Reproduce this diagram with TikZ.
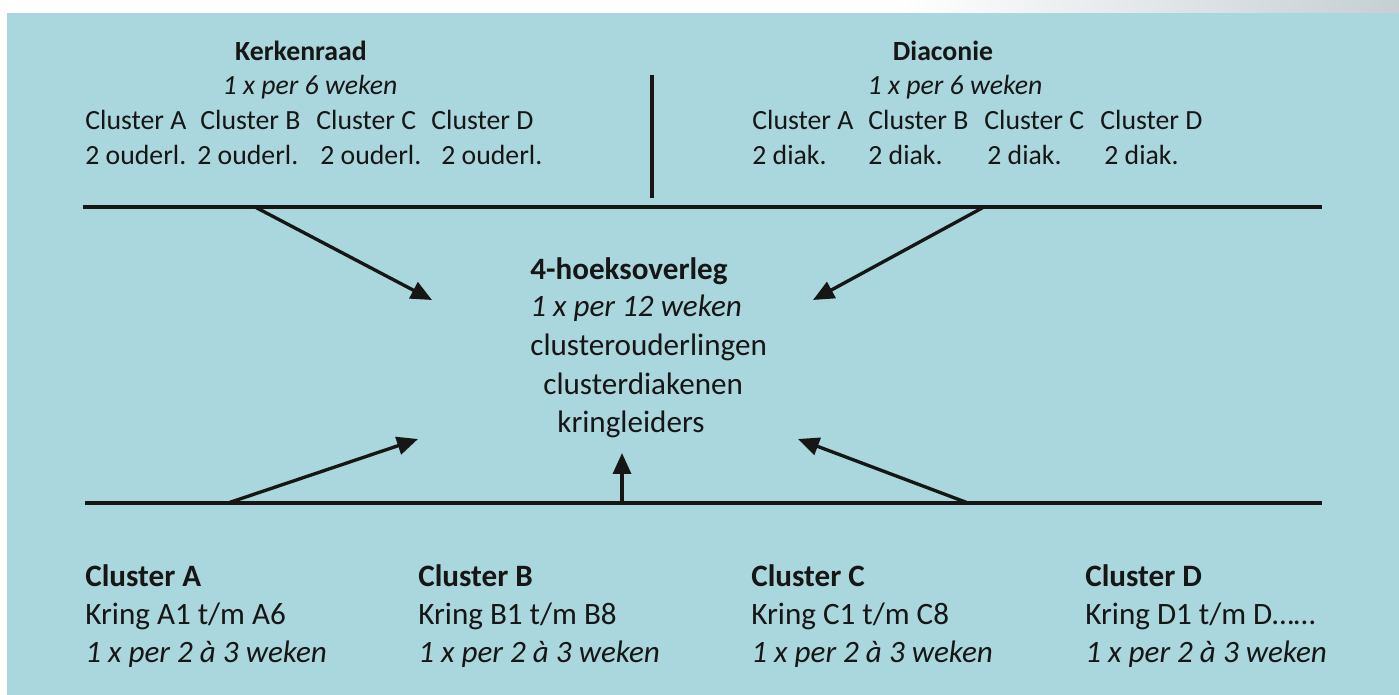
\documentclass[tikz,border=0pt]{standalone}
\usepackage{fontspec}
\setmainfont{Carlito}
\usetikzlibrary{arrows.meta}
\definecolor{panel}{RGB}{170,214,221}
\definecolor{strip}{RGB}{197,207,212}
\definecolor{ink}{RGB}{22,22,22}
\tikzset{
	>={Triangle[length=4.2mm,width=3.6mm]}
}

\begin{document}
\begin{tikzpicture}[
x = 0.02cm, y = -0.02cm,
every node/.style = {
	inner sep = 0pt,
	anchor = base west,
	text = ink
},
small/.style = {
	font = \fontsize{15.8}{19}\selectfont
},
small title/.style = {
	font = \fontsize{15.8}{19}\selectfont\bfseries,
	anchor = base
},
small freq/.style = {
	font = \fontsize{15.8}{19}\selectfont\itshape,
	anchor = base
},
big/.style = {
	font = \fontsize{17.7}{21}\selectfont
},
big title/.style = {
	font = \fontsize{17.7}{21}\selectfont\bfseries
},
big freq/.style = {
	font = \fontsize{17.7}{21}\selectfont\itshape
},
bar/.style = {
	draw = ink,
	line width = 1.9pt
},
flow/.style = {
	->,
	draw = ink,
	line width = 1.9pt,
	shorten <= 0.9pt
}
]

\useasboundingbox (0,0) rectangle (1399,695);
% background panel and top strip
\fill[white] (0,0) rectangle (1399,695);
\shade[left color=white, right color=strip] (900,0) rectangle (1399,13);
\fill[panel] (7,13) rectangle (1399,695);

% Kerkenraad
\node [small title] (kr) at (301,61) {Kerkenraad};
\node [small freq] (krfreq) at (310,95) {1 x per 6 weken};
\node [small] (krA) at (85,130) {Cluster A};
\node [small] (krB) at (200,130) {Cluster B};
\node [small] (krC) at (316,130) {Cluster C};
\node [small] (krD) at (431,130) {Cluster D};
\node [small] (ouA) at (85,165) {2 ouderl.};
\node [small] (ouB) at (197,165) {2 ouderl.};
\node [small] (ouC) at (320,165) {2 ouderl.};
\node [small] (ouD) at (441,165) {2 ouderl.};

% Diaconie
\node [small title] (dia) at (943,61) {Diaconie};
\node [small freq] (diafreq) at (955,95) {1 x per 6 weken};
\node [small] (diaA) at (752,130) {Cluster A};
\node [small] (diaB) at (868,130) {Cluster B};
\node [small] (diaC) at (984,130) {Cluster C};
\node [small] (diaD) at (1100,130) {Cluster D};
\node [small] (dkA) at (752,165) {2 diak.};
\node [small] (dkB) at (868,165) {2 diak.};
\node [small] (dkC) at (987,165) {2 diak.};
\node [small] (dkD) at (1104,165) {2 diak.};

% 4-hoeksoverleg
\node [big title] (hoek) at (530,280) {4-hoeksoverleg};
\node [big freq] (hoekfreq) at (530,317) {1 x per 12 weken};
\node [big] (ouderl) at (530,356) {clusterouderlingen};
\node [big] (diak) at (543,395) {clusterdiakenen};
\node [big] (kring) at (557,433) {kringleiders};

% clusters
\node [big title] (clA) at (85,586) {Cluster A};
\node [big] (kA) at (85,624) {Kring A1 t/m A6};
\node [big freq] (fA) at (85,662) {1 x per 2 à 3 weken};
\node [big title] (clB) at (418,586) {Cluster B};
\node [big] (kB) at (418,624) {Kring B1 t/m B8};
\node [big freq] (fB) at (418,662) {1 x per 2 à 3 weken};
\node [big title] (clC) at (751,586) {Cluster C};
\node [big] (kC) at (751,624) {Kring C1 t/m C8};
\node [big freq] (fC) at (751,662) {1 x per 2 à 3 weken};
\node [big title] (clD) at (1085,586) {Cluster D};
\node [big] (kD) at (1085,624) {Kring D1 t/m D……};
\node [big freq] (fD) at (1085,662) {1 x per 2 à 3 weken};

% lines
\draw[bar] (652,75) -- (652,198);
\draw[bar] (83,207) -- (1322,207);
\draw[bar] (85,503) -- (1322,503);

% arrow ends
\coordinate (krout) at (255,207);
\coordinate (diaout) at (984,207);
\coordinate (Aout) at (228,503);
\coordinate (Bout) at (622,503);
\coordinate (Dout) at (968,503);
\coordinate (inNW) at (432,300);
\coordinate (inNE) at (813,300);
\coordinate (inSW) at (418,439);
\coordinate (inS) at (622,453);
\coordinate (inSE) at (798,439);

\draw[flow] (krout) -- (inNW);
\draw[flow] (diaout) -- (inNE);
\draw[flow] (Aout) -- (inSW);
\draw[flow] (Bout) -- (inS);
\draw[flow] (Dout) -- (inSE);

\end{tikzpicture}
\end{document}
